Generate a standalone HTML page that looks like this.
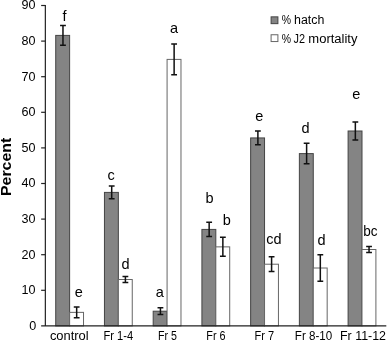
<!DOCTYPE html><html><head><meta charset="utf-8"><title>chart</title>
<style>html,body{margin:0;padding:0;background:#fff;overflow:hidden}svg{display:block}text{font-family:"Liberation Sans",sans-serif;fill:#000}</style></head><body>
<svg width="387" height="341" viewBox="0 0 387 341">
<rect width="387" height="341" fill="#fff"/>
<rect x="55.72" y="35.40" width="13.9" height="290.50" fill="#848484" stroke="#444" stroke-width="1"/>
<rect x="69.62" y="312.37" width="13.9" height="13.53" fill="#fff" stroke="#666" stroke-width="1"/>
<path d="M62.97 25.61V45.19M60.07 25.61h5.8M60.07 45.19h5.8" stroke="#111" stroke-width="1.5" fill="none"/>
<path d="M76.67 307.03V317.71M73.77 307.03h5.8M73.77 317.71h5.8" stroke="#111" stroke-width="1.5" fill="none"/>
<rect x="104.45" y="192.40" width="13.9" height="133.50" fill="#848484" stroke="#444" stroke-width="1"/>
<rect x="118.35" y="279.51" width="13.9" height="46.39" fill="#fff" stroke="#666" stroke-width="1"/>
<path d="M111.70 185.99V198.81M108.80 185.99h5.8M108.80 198.81h5.8" stroke="#111" stroke-width="1.5" fill="none"/>
<path d="M125.40 276.56V282.47M122.50 276.56h5.8M122.50 282.47h5.8" stroke="#111" stroke-width="1.5" fill="none"/>
<rect x="153.18" y="311.20" width="13.9" height="14.70" fill="#848484" stroke="#444" stroke-width="1"/>
<rect x="167.08" y="59.40" width="13.9" height="266.50" fill="#fff" stroke="#666" stroke-width="1"/>
<path d="M160.43 307.82V314.58M157.53 307.82h5.8M157.53 314.58h5.8" stroke="#111" stroke-width="1.5" fill="none"/>
<path d="M174.13 43.98V74.81M171.23 43.98h5.8M171.23 74.81h5.8" stroke="#111" stroke-width="1.5" fill="none"/>
<rect x="201.91" y="229.42" width="13.9" height="96.48" fill="#848484" stroke="#444" stroke-width="1"/>
<rect x="215.81" y="246.87" width="13.9" height="79.03" fill="#fff" stroke="#666" stroke-width="1"/>
<path d="M209.16 222.30V236.54M206.26 222.30h5.8M206.26 236.54h5.8" stroke="#111" stroke-width="1.5" fill="none"/>
<path d="M222.86 237.36V256.37M219.96 237.36h5.8M219.96 256.37h5.8" stroke="#111" stroke-width="1.5" fill="none"/>
<rect x="250.64" y="137.93" width="13.9" height="187.97" fill="#848484" stroke="#444" stroke-width="1"/>
<rect x="264.54" y="264.21" width="13.9" height="61.69" fill="#fff" stroke="#666" stroke-width="1"/>
<path d="M257.89 131.10V144.77M254.99 131.10h5.8M254.99 144.77h5.8" stroke="#111" stroke-width="1.5" fill="none"/>
<path d="M271.59 256.87V271.54M268.69 256.87h5.8M268.69 271.54h5.8" stroke="#111" stroke-width="1.5" fill="none"/>
<rect x="299.37" y="153.60" width="13.9" height="172.30" fill="#848484" stroke="#444" stroke-width="1"/>
<rect x="313.27" y="268.01" width="13.9" height="57.89" fill="#fff" stroke="#666" stroke-width="1"/>
<path d="M306.62 143.34V163.85M303.72 143.34h5.8M303.72 163.85h5.8" stroke="#111" stroke-width="1.5" fill="none"/>
<path d="M320.32 254.81V281.22M317.42 254.81h5.8M317.42 281.22h5.8" stroke="#111" stroke-width="1.5" fill="none"/>
<rect x="348.10" y="130.99" width="13.9" height="194.91" fill="#848484" stroke="#444" stroke-width="1"/>
<rect x="362.00" y="249.50" width="13.9" height="76.40" fill="#fff" stroke="#666" stroke-width="1"/>
<path d="M355.35 122.09V139.89M352.45 122.09h5.8M352.45 139.89h5.8" stroke="#111" stroke-width="1.5" fill="none"/>
<path d="M369.05 246.51V252.49M366.15 246.51h5.8M366.15 252.49h5.8" stroke="#111" stroke-width="1.5" fill="none"/>
<text x="64.6" y="20.5" font-size="14.5" text-anchor="middle">f</text>
<text x="78.9" y="297.4" font-size="14.5" text-anchor="middle">e</text>
<text x="111.0" y="179.6" font-size="14.5" text-anchor="middle">c</text>
<text x="125.6" y="269.1" font-size="14.5" text-anchor="middle">d</text>
<text x="159.9" y="297.0" font-size="14.5" text-anchor="middle">a</text>
<text x="174.0" y="32.9" font-size="14.5" text-anchor="middle">a</text>
<text x="209.5" y="203.2" font-size="14.5" text-anchor="middle">b</text>
<text x="226.9" y="224.5" font-size="14.5" text-anchor="middle">b</text>
<text x="259.4" y="121.2" font-size="14.5" text-anchor="middle">e</text>
<text x="273.8" y="243.7" font-size="14.5" text-anchor="middle" textLength="15.3" lengthAdjust="spacingAndGlyphs">cd</text>
<text x="305.5" y="132.7" font-size="14.5" text-anchor="middle">d</text>
<text x="321.6" y="244.9" font-size="14.5" text-anchor="middle">d</text>
<text x="356.2" y="99.4" font-size="14.5" text-anchor="middle">e</text>
<text x="370.3" y="235.6" font-size="14.5" text-anchor="middle" textLength="14.3" lengthAdjust="spacingAndGlyphs">bc</text>
<text x="69.3" y="340.4" font-size="12.3" text-anchor="middle" textLength="38.8" lengthAdjust="spacingAndGlyphs">control</text>
<text x="118.35" y="340.4" font-size="12.3" text-anchor="middle" textLength="29.7" lengthAdjust="spacingAndGlyphs">Fr 1-4</text>
<text x="167.4" y="340.4" font-size="12.3" text-anchor="middle" textLength="18.9" lengthAdjust="spacingAndGlyphs">Fr 5</text>
<text x="216.0" y="340.4" font-size="12.3" text-anchor="middle" textLength="19.3" lengthAdjust="spacingAndGlyphs">Fr 6</text>
<text x="264.35" y="340.4" font-size="12.3" text-anchor="middle" textLength="19.6" lengthAdjust="spacingAndGlyphs">Fr 7</text>
<text x="313.5" y="340.4" font-size="12.3" text-anchor="middle" textLength="37.4" lengthAdjust="spacingAndGlyphs">Fr 8-10</text>
<text x="363.0" y="340.4" font-size="12.3" text-anchor="middle" textLength="46.0" lengthAdjust="spacingAndGlyphs">Fr 11-12</text>
<path d="M45.35 5V325.9" stroke="#222" stroke-width="1.2" fill="none"/>
<path d="M41.15 325.9H386.3" stroke="#222" stroke-width="1.2" fill="none"/>
<path d="M41.15 290.30H45.35" stroke="#222" stroke-width="1.2"/>
<path d="M41.15 254.70H45.35" stroke="#222" stroke-width="1.2"/>
<path d="M41.15 219.10H45.35" stroke="#222" stroke-width="1.2"/>
<path d="M41.15 183.50H45.35" stroke="#222" stroke-width="1.2"/>
<path d="M41.15 147.90H45.35" stroke="#222" stroke-width="1.2"/>
<path d="M41.15 112.30H45.35" stroke="#222" stroke-width="1.2"/>
<path d="M41.15 76.70H45.35" stroke="#222" stroke-width="1.2"/>
<path d="M41.15 41.10H45.35" stroke="#222" stroke-width="1.2"/>
<path d="M41.15 5.50H45.35" stroke="#222" stroke-width="1.2"/>
<text x="36.3" y="329.70" font-size="12.2" text-anchor="end" textLength="7.0" lengthAdjust="spacingAndGlyphs">0</text>
<text x="35.6" y="294.10" font-size="12.2" text-anchor="end" textLength="14.0" lengthAdjust="spacingAndGlyphs">10</text>
<text x="35.6" y="258.50" font-size="12.2" text-anchor="end" textLength="14.0" lengthAdjust="spacingAndGlyphs">20</text>
<text x="35.6" y="222.90" font-size="12.2" text-anchor="end" textLength="14.0" lengthAdjust="spacingAndGlyphs">30</text>
<text x="35.6" y="187.30" font-size="12.2" text-anchor="end" textLength="14.0" lengthAdjust="spacingAndGlyphs">40</text>
<text x="35.6" y="151.70" font-size="12.2" text-anchor="end" textLength="14.0" lengthAdjust="spacingAndGlyphs">50</text>
<text x="35.6" y="116.10" font-size="12.2" text-anchor="end" textLength="14.0" lengthAdjust="spacingAndGlyphs">60</text>
<text x="35.6" y="80.50" font-size="12.2" text-anchor="end" textLength="14.0" lengthAdjust="spacingAndGlyphs">70</text>
<text x="35.6" y="44.90" font-size="12.2" text-anchor="end" textLength="14.0" lengthAdjust="spacingAndGlyphs">80</text>
<text x="35.6" y="9.30" font-size="12.2" text-anchor="end" textLength="14.0" lengthAdjust="spacingAndGlyphs">90</text>
<text transform="translate(11.2,166.9) rotate(-90)" font-size="15.5" font-weight="bold" text-anchor="middle" textLength="58.3" lengthAdjust="spacingAndGlyphs">Percent</text>
<rect x="271.1" y="16.85" width="6.8" height="6.8" fill="#848484" stroke="#444" stroke-width="1"/>
<text y="24.3" font-size="12.3"><tspan x="281.7" textLength="9.3" lengthAdjust="spacingAndGlyphs">%</tspan> <tspan x="294.0" textLength="30.3" lengthAdjust="spacingAndGlyphs">hatch</tspan></text>
<rect x="271.1" y="34.75" width="6.8" height="6.8" fill="#fff" stroke="#666" stroke-width="1"/>
<text y="42.5" font-size="12.3"><tspan x="281.7" textLength="9.3" lengthAdjust="spacingAndGlyphs">%</tspan> <tspan x="293.5" textLength="11.5" lengthAdjust="spacingAndGlyphs">J2</tspan> <tspan x="308.3" textLength="49.2" lengthAdjust="spacingAndGlyphs">mortality</tspan></text>
</svg></body></html>
